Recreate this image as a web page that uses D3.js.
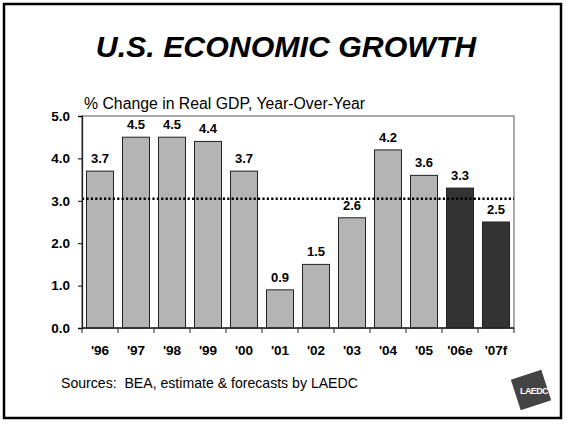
<!DOCTYPE html>
<html><head><meta charset="utf-8">
<script src="https://cdn.jsdelivr.net/npm/d3@7"></script>
<style>body{margin:0;background:#fff}svg{display:block;font-family:Arial,"Liberation Sans",sans-serif}</style>
</head><body>
<svg id="c" width="566" height="424"></svg>
<script>
const categories = ["'96","'97","'98","'99","'00","'01","'02","'03","'04","'05","'06e","'07f"];
const values = [3.7,4.5,4.5,4.4,3.7,0.9,1.5,2.6,4.2,3.6,3.3,2.5];
const forecast = [false,false,false,false,false,false,false,false,false,false,true,true];
const yTicks = [0,1,2,3,4,5];
const averageLine = 3.05;

const FF = "Arial,'Liberation Sans',sans-serif";
const svg = d3.select("#c");
svg.append("rect").attr("x",4).attr("y",4).attr("width",557).attr("height",414)
  .attr("fill","#fff").attr("stroke","#000").attr("stroke-width",2.5);

svg.append("text").attr("x",286).attr("y",57).attr("text-anchor","middle")
  .attr("font-size",30.3).attr("font-weight","bold").attr("font-style","italic")
  .text("U.S. ECONOMIC GROWTH");

const L=82,R=514,T=116,B=328;
const x = d3.scaleBand().domain(categories).range([L,R]).paddingInner(0.25).paddingOuter(0.125);
const y = d3.scaleLinear().domain([0,5]).range([B,T]);

// plot frame
svg.append("rect").attr("x",L).attr("y",T).attr("width",R-L).attr("height",B-T)
  .attr("fill","none").attr("stroke","#555").attr("stroke-width",1);

svg.append("text").attr("x",84).attr("y",109).attr("font-size",15.8).text("% Change in Real GDP, Year-Over-Year");

// bars
svg.selectAll("rect.bar").data(values).join("rect").attr("class","bar")
  .attr("x",(d,i)=>x(categories[i])).attr("width",x.bandwidth())
  .attr("y",d=>y(d)).attr("height",d=>B-y(d))
  .attr("fill",(d,i)=>forecast[i]?"#333333":"#b4b4b4")
  .attr("stroke","#222").attr("stroke-width",1);

// value labels
svg.selectAll("text.val").data(values).join("text").attr("class","val")
  .attr("x",(d,i)=>x(categories[i])+x.bandwidth()/2).attr("y",d=>y(d)-8)
  .attr("text-anchor","middle").attr("font-size",13).attr("font-weight","bold")
  .text(d=>d.toFixed(1));

// average dotted line
svg.append("line").attr("x1",L).attr("x2",R).attr("y1",y(averageLine)).attr("y2",y(averageLine))
  .attr("stroke","#000").attr("stroke-width",2.4).attr("stroke-dasharray","2.2,2.2");

// y axis
const ya = svg.append("g").attr("transform",`translate(${L},0)`)
  .call(d3.axisLeft(y).tickValues(yTicks).tickFormat(d3.format(".1f")).tickSize(4).tickPadding(8));
ya.select(".domain").attr("stroke","#222").attr("stroke-width",1.3);
ya.selectAll("text").attr("font-size",13.5).attr("font-weight","bold").attr("fill","#000").attr("font-family",FF);

// x axis labels + baseline + ticks at band boundaries
const xa = svg.append("g").attr("transform",`translate(0,${B})`)
  .call(d3.axisBottom(x).tickSize(0).tickPadding(17));
xa.select(".domain").remove();
xa.selectAll("text").attr("font-size",13.5).attr("font-weight","bold").attr("fill","#000").attr("font-family",FF);
svg.append("line").attr("x1",L).attr("x2",R).attr("y1",B).attr("y2",B).attr("stroke","#222").attr("stroke-width",1.3);
const bounds = d3.range(categories.length+1).map(i=>L+i*(R-L)/categories.length);
svg.selectAll("line.xt").data(bounds).join("line").attr("class","xt")
  .attr("x1",d=>d).attr("x2",d=>d).attr("y1",B).attr("y2",B+5).attr("stroke","#222");

svg.append("text").attr("x",61).attr("y",388).attr("font-size",14.1).attr("xml:space","preserve")
  .text("Sources:  BEA, estimate & forecasts by LAEDC");

// logo
const logo = svg.append("g").attr("transform","translate(531,390)");
logo.append("rect").attr("x",-16).attr("y",-16).attr("width",32).attr("height",32)
  .attr("fill","#444").attr("transform","rotate(-18)");
logo.append("text").attr("x",3).attr("y",4).attr("text-anchor","middle").attr("font-size",9)
  .attr("font-weight","bold").attr("fill","#fff").attr("letter-spacing",-0.6).text("LAEDC");
</script>
</body></html>
